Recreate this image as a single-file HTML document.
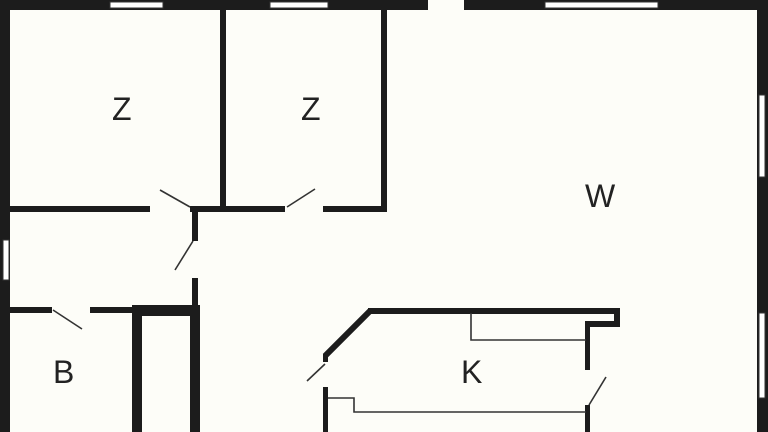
<!DOCTYPE html>
<html><head><style>body{margin:0;background:#fdfdf8}svg{display:block}text{font-family:"Liberation Sans",sans-serif;font-size:32px;fill:#222}</style></head>
<body><svg width="768" height="432" viewBox="0 0 768 432">
<rect width="768" height="432" fill="#fdfdf8"/>
<g fill="#1c1c1c">
<rect x="0" y="0" width="428" height="10"/>
<rect x="464" y="0" width="304" height="10"/>
<rect x="0" y="0" width="10" height="432"/>
<rect x="757" y="0" width="11" height="432"/>
<rect x="220" y="10" width="6" height="200"/>
<rect x="381" y="10" width="6" height="202"/>
<rect x="10" y="206" width="140" height="6"/>
<rect x="190" y="206" width="95" height="6"/>
<rect x="323" y="206" width="64" height="6"/>
<rect x="192" y="206" width="6" height="35"/>
<rect x="192" y="278" width="6" height="32"/>
<rect x="10" y="307" width="42" height="6"/>
<rect x="90" y="307" width="42" height="6"/>
<rect x="132" y="305" width="68" height="127"/>
<rect x="368" y="308" width="252" height="6"/>
<rect x="614" y="308" width="6" height="19"/>
<rect x="586" y="321" width="34" height="6"/>
<rect x="585" y="321" width="5" height="49"/>
<rect x="585" y="405" width="5" height="27"/>
<rect x="323" y="354" width="5" height="8"/>
<rect x="323" y="387" width="5" height="45"/>
</g>
<rect x="142" y="316" width="48" height="116" fill="#fdfdf8"/>
<line x1="370" y1="311" x2="325" y2="356" stroke="#1c1c1c" stroke-width="6"/>
<g fill="#fff" stroke="#333" stroke-width="1">
<rect x="110" y="2" width="53" height="6"/>
<rect x="270" y="2" width="58" height="6"/>
<rect x="545" y="2" width="113" height="6"/>
<rect x="759" y="95" width="6" height="82"/>
<rect x="759" y="313" width="6" height="85"/>
<rect x="3" y="240" width="6" height="40"/>
</g>
<g stroke="#333" stroke-width="1.6" fill="none">
<line x1="160" y1="190" x2="190" y2="207"/>
<line x1="287" y1="207" x2="315" y2="189"/>
<line x1="193" y1="241" x2="175" y2="270"/>
<line x1="53" y1="310" x2="82" y2="329"/>
<line x1="325" y1="364" x2="307" y2="381"/>
<line x1="589" y1="405" x2="606" y2="377"/>
<polyline points="471,313 471,340 586,340"/>
<polyline points="328,398 354,398 354,412 586,412"/>
</g>
<text x="112" y="120">Z</text>
<text x="301" y="120">Z</text>
<text x="585" y="207">W</text>
<text x="53" y="383">B</text>
<text x="461" y="383">K</text>
</svg></body></html>
